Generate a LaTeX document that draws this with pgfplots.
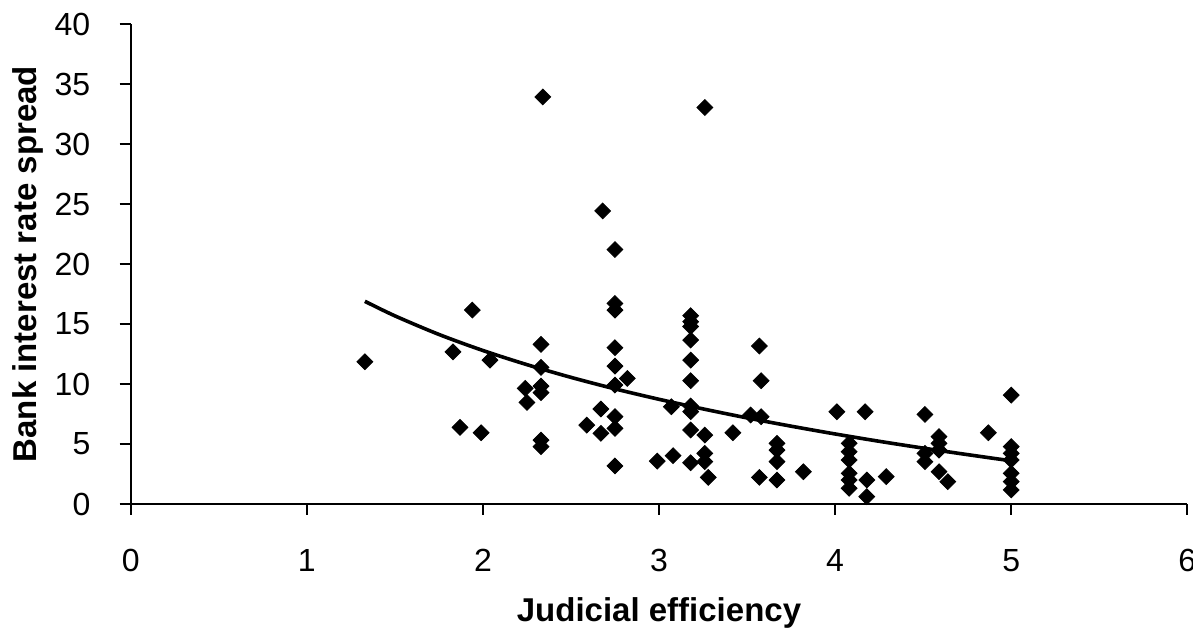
\documentclass[border=0pt]{standalone}
\usepackage{pgfplots}
\pgfplotsset{compat=1.18}
\usepackage{fontspec}
\setmainfont{Liberation Sans}

\begin{document}
\begin{tikzpicture}
\begin{axis}[
  name=ax,
  scale only axis,
  width=528.3pt, height=239.85pt,
  xmin=0, xmax=6, ymin=0, ymax=40,
  xtick={0,1,...,6}, ytick={0,5,...,40},
  axis x line=bottom, axis y line=left,
  axis line style={-, line width=1pt},
  every tick/.style={black, line width=1pt},
  tick align=outside,
  major tick length=5.5pt,
  /pgf/number format/assume math mode=true,
  tick label style={font=\fontsize{16}{16}\selectfont},
  yticklabel style={anchor=east, inner sep=0pt, xshift=-14.5pt},
  xticklabel style={anchor=north, inner sep=0pt, yshift=-17pt},
  xlabel={Judicial efficiency},
  ylabel={Bank interest rate spread},
  xlabel style={font=\fontsize{16.5}{16.5}\selectfont\bfseries,
    at={([yshift=-58.85pt]axis description cs:0.5,0)}, anchor=base},
  ylabel style={font=\fontsize{16.5}{16.5}\selectfont\bfseries,
    at={([xshift=-51.35pt]axis description cs:0,0.5)}, anchor=center, rotate=0},
  clip=false,
]
% country observations
\addplot[only marks, mark=square*, mark size=2.8pt,
  mark options={rotate=45, fill=black, draw=black}] coordinates {
  (1.33,11.86) (1.94,16.17) (1.83,12.69) (2.04,12.0) (1.87,6.39) (1.99,5.94)
  (2.33,13.31) (2.33,11.39) (2.24,9.64) (2.33,9.83) (2.33,9.28) (2.25,8.47)
  (2.33,5.33) (2.33,4.78) (2.34,33.94)
  (2.68,24.44) (2.75,21.22)
  (2.75,16.72) (2.75,16.17) (2.75,13.03) (2.75,11.5) (2.75,9.92) (2.82,10.47)
  (2.67,7.92) (2.59,6.58) (2.67,5.89) (2.75,7.28) (2.75,6.31) (2.75,3.17)
  (2.99,3.58) (3.07,8.11) (3.08,4.03)
  (3.18,15.7) (3.18,15.2) (3.18,14.8) (3.18,13.67) (3.18,12.0) (3.18,10.28)
  (3.18,8.17) (3.18,7.7) (3.18,6.17) (3.18,3.44)
  (3.26,33.06) (3.26,5.75) (3.26,4.22) (3.26,3.53) (3.28,2.22) (3.42,5.94)
  (3.52,7.42) (3.57,13.17) (3.58,10.28) (3.58,7.28) (3.57,2.22)
  (3.67,5.06) (3.67,4.5) (3.67,3.53) (3.67,2.0) (3.82,2.69)
  (4.01,7.69) (4.17,7.69) (4.08,5.06) (4.08,4.36) (4.08,3.67) (4.08,2.56)
  (4.08,2.0) (4.08,1.31) (4.18,2.0) (4.18,0.61) (4.29,2.28)
  (4.51,7.47) (4.51,4.22) (4.51,3.53) (4.59,5.61) (4.59,5.06) (4.59,4.5)
  (4.59,2.69) (4.64,1.86) (4.87,5.94)
  (5.0,9.08) (5.0,4.78) (5.0,4.22) (5.0,3.67) (5.0,2.56) (5.0,1.86) (5.0,1.17)
};
% logarithmic trend line
\addplot[black, line width=1.8pt, smooth, mark=none] coordinates {
  (1.33,16.90) (1.5,15.69) (1.75,14.14) (2,12.80) (2.25,11.62) (2.5,10.56)
  (2.75,9.60) (3,8.73) (3.25,7.93) (3.5,7.18) (3.75,6.49) (4,5.84)
  (4.25,5.23) (4.5,4.66) (4.75,4.12) (5,3.60)
};
\end{axis}
\pgfresetboundingbox
\path ([xshift=-65.35pt,yshift=-63pt]ax.south west) rectangle ([xshift=2.85pt,yshift=12.15pt]ax.north east);
\end{tikzpicture}
\end{document}
